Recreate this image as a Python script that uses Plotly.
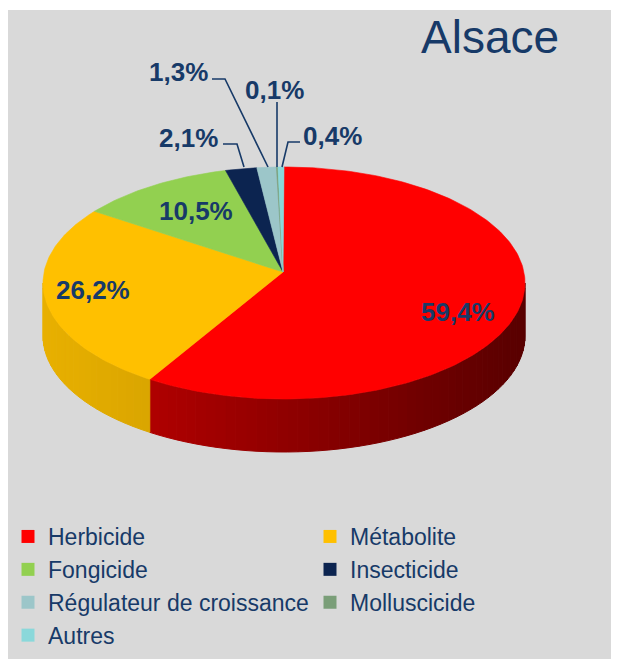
import numpy as np
import plotly.graph_objects as go

# ---------------- data ----------------
categories = ["Herbicide", "Métabolite", "Fongicide", "Insecticide",
              "Régulateur de croissance", "Molluscicide", "Autres"]
values = [59.4, 26.2, 10.5, 2.1, 1.3, 0.1, 0.4]
title_text = "Alsace"

# ---------------- style ----------------
top_colors = ["#ff0000", "#ffc000", "#92d050", "#0c2450", "#9cc6c9", "#7a9e78", "#8ad8da"]
side_light = ["#c80000", "#e8b000", "#7cb640", "#081a3c", "#86b0b3", "#668a64", "#76c2c4"]
side_dark = ["#580000", "#a88000", "#4e7a28", "#040e22", "#5a7e80", "#46603f", "#4e9698"]
navy = "#173a68"
bg_gray = "#d9d9d9"

PAGE_W, PAGE_H = 619, 667
BODY = 8                                   # browser default body margin
W, H = PAGE_W - 2 * BODY, PAGE_H - 2 * BODY

cx, cy = 284, 283          # ellipse centre (page px)
rx, ry = 241, 116          # radii (px)
apex = (283, 272)          # where slices meet (perspective)
depth = 53                 # thickness of the pie side (px)

# label placement (page px)
label_pos = [(458, 312), (93, 290), (196, 211), (188, 138), (178, 72), (274, 90), (332, 136)]
leader_paths = [None, None, None,
                "M 223 144 L 237 144 L 244 167",
                "M 212 79 L 225 79 L 268 167",
                "M 277 102 L 277 167",
                "M 300 142 L 288 142 L 282 167"]


def hexrgb(h):
    h = h.lstrip("#")
    return np.array([int(h[i:i + 2], 16) for i in (0, 2, 4)], dtype=float)


def mix(c1, c2, t):
    c = hexrgb(c1) * (1 - t) + hexrgb(c2) * t
    return "rgb(%d,%d,%d)" % tuple(np.clip(c, 0, 255).round())


def ell(theta_deg):
    t = np.radians(theta_deg)
    return cx + rx * np.sin(t), cy - ry * np.cos(t)


fig = go.Figure()

total = sum(values)
bounds = np.concatenate([[0], np.cumsum(values) / total * 360.0])

# ---- side walls (front half only: 90..270 deg clockwise from top) ----
for i, v in enumerate(values):
    a0, a1 = bounds[i], bounds[i + 1]
    s0, s1 = max(a0, 90.0), min(a1, 270.0)
    if s1 <= s0:
        continue
    n = max(2, int((s1 - s0) / 2.5) + 1)
    angs = np.linspace(s0, s1, n + 1)
    for k in range(n):
        th = np.linspace(angs[k], angs[k + 1], 4)
        xs, ys = ell(th)
        xm = float(np.mean(xs))
        tcol = (xm - (cx - rx)) / (2 * rx)
        col = mix(side_light[i], side_dark[i], tcol)
        px = list(xs) + list(xs[::-1]) + [xs[0]]
        py = list(ys) + list((ys + depth)[::-1]) + [ys[0]]
        fig.add_trace(go.Scatter(x=px, y=py, mode="lines", fill="toself",
                                 fillcolor=col, line=dict(color=col, width=1),
                                 hoverinfo="skip", showlegend=False))

# ---- top faces ----
for i, v in enumerate(values):
    a0, a1 = bounds[i], bounds[i + 1]
    th = np.linspace(a0, a1, max(3, int((a1 - a0) / 1.0) + 2))
    xs, ys = ell(th)
    px = [apex[0]] + list(xs) + [apex[0]]
    py = [apex[1]] + list(ys) + [apex[1]]
    fig.add_trace(go.Scatter(x=px, y=py, mode="lines", fill="toself",
                             fillcolor=top_colors[i],
                             line=dict(color=top_colors[i], width=0.6),
                             hoverinfo="skip", showlegend=False, name=categories[i]))

# ---- legend entries ----
for i, c in enumerate(categories):
    fig.add_trace(go.Scatter(x=[None], y=[None], mode="markers", name=c,
                             marker=dict(symbol="square", size=13, color=top_colors[i]),
                             showlegend=True))

# ---- labels ----
annotations = []
for i, v in enumerate(values):
    txt = ("%.1f%%" % v).replace(".", ",")
    annotations.append(dict(x=label_pos[i][0], y=label_pos[i][1], text=txt,
                            showarrow=False, xanchor="center", yanchor="middle",
                            font=dict(family="Arial, Liberation Sans", size=26,
                                      color=navy, weight="bold")))
annotations.append(dict(x=490, y=37, text=title_text, showarrow=False,
                        xanchor="center", yanchor="middle",
                        font=dict(family="Arial, Liberation Sans", size=46, color=navy)))

shapes = [dict(type="rect", x0=BODY, y0=10, x1=PAGE_W, y1=PAGE_H, xref="x", yref="y",
               fillcolor=bg_gray, line=dict(width=0), layer="below")]
for p in leader_paths:
    if p:
        shapes.append(dict(type="path", path=p, xref="x", yref="y",
                           line=dict(color=navy, width=1.6)))

fig.update_layout(
    width=W, height=H, autosize=False,
    margin=dict(l=0, r=0, t=0, b=0),
    paper_bgcolor="white", plot_bgcolor="rgba(0,0,0,0)",
    xaxis=dict(range=[BODY, BODY + W], visible=False, fixedrange=True),
    yaxis=dict(range=[BODY + H, BODY], visible=False, fixedrange=True),
    annotations=annotations, shapes=shapes,
    showlegend=True,
    legend=dict(orientation="h", x=0, xanchor="left",
                y=1 - 507 / H, yanchor="top",
                font=dict(family="Arial, Liberation Sans", size=23, color=navy),
                itemwidth=30, entrywidth=257, entrywidthmode="pixels",
                bgcolor="rgba(0,0,0,0)", traceorder="normal",
                itemclick=False, itemdoubleclick=False),
)

fig.write_html("out.html")
